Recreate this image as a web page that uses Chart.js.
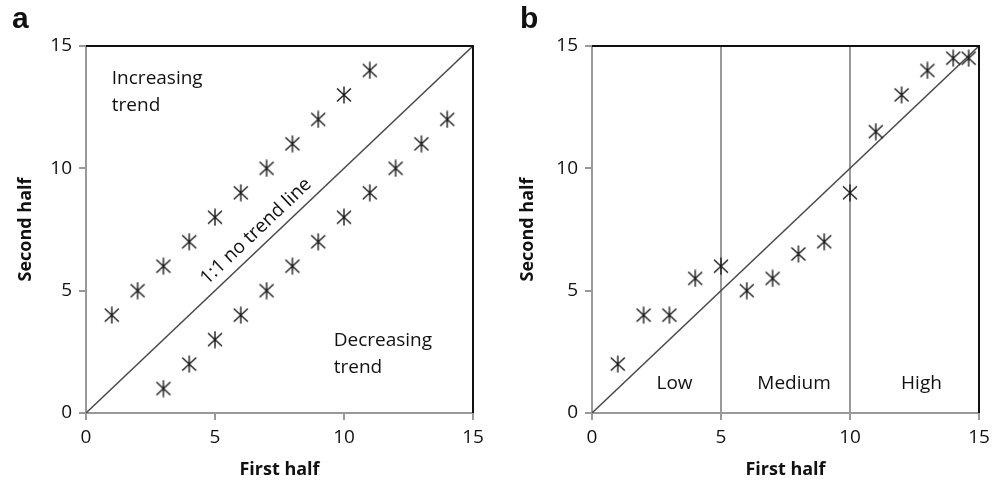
<!DOCTYPE html>
<html>
<head>
<meta charset="utf-8">
<script src="https://cdn.jsdelivr.net/npm/chart.js@4.4.1/dist/chart.umd.min.js"></script>
<style>
  body { margin: 0; background: #fff; width: 1005px; height: 484px; position: relative; overflow: hidden; }
  .panel { position: absolute; top: 0; height: 484px; }
  .letra { position: absolute; top: 1px; font: bold 30px "Liberation Sans", Arial, sans-serif; color: #111; }
</style>
</head>
<body>
<div class="panel" style="left:0;width:502px"><canvas id="graficaA" width="502" height="484"></canvas></div>
<div class="panel" style="left:502px;width:503px"><canvas id="graficaB" width="503" height="484"></canvas></div>
<div class="letra" style="left:12px">a</div>
<div class="letra" style="left:520px">b</div>
<script>
// Panel a: puntos por encima y por debajo de la linea 1:1
const subidaX = [1, 2, 3, 4, 5, 6, 7, 8, 9, 10, 11];
const subidaY = [4, 5, 6, 7, 8, 9, 10, 11, 12, 13, 14];
const bajadaX = [3, 4, 5, 6, 7, 8, 9, 10, 11, 12, 13, 14];
const bajadaY = [1, 2, 3, 4, 5, 6, 7, 8, 9, 10, 11, 12];

// Panel b
const puntosBX = [1, 2, 3, 4, 5, 6, 7, 8, 9, 10, 11, 12, 13, 14, 14.6];
const puntosBY = [2, 4, 4, 5.5, 6, 5, 5.5, 6.5, 7, 9, 11.5, 13, 14, 14.5, 14.5];

const ticksEje = [0, 5, 10, 15];
const cortes = [5, 10];
const tituloX = 'First half';
const tituloY = 'Second half';

const fuente = '"Open Sans", "Liberation Sans", sans-serif';

// asterisco de 6 brazos
function hacerAsterisco() {
  const c = document.createElement('canvas');
  c.width = 18; c.height = 18;
  const g = c.getContext('2d');
  g.strokeStyle = '#1a1a1a';
  g.lineWidth = 1.4;
  g.beginPath();
  g.moveTo(9, 0.5); g.lineTo(9, 17.5);
  g.moveTo(2, 2.5); g.lineTo(16, 15.5);
  g.moveTo(16, 2.5); g.lineTo(2, 15.5);
  g.stroke();
  return c;
}
const asterisco = hacerAsterisco();

function juntar(xs, ys) {
  return xs.map((x, i) => ({ x: x, y: ys[i] }));
}

const marco = {
  id: 'marco',
  afterDatasetsDraw(chart) {
    const { ctx, chartArea: a } = chart;
    ctx.save();
    ctx.strokeStyle = '#111';
    ctx.lineWidth = 2;
    ctx.beginPath();
    ctx.moveTo(a.left, a.top);
    ctx.lineTo(a.right, a.top);
    ctx.lineTo(a.right, a.bottom);
    ctx.stroke();
    ctx.restore();
  }
};

const notas = {
  id: 'notas',
  afterDatasetsDraw(chart, args, opts) {
    const { ctx, scales } = chart;
    ctx.save();
    ctx.fillStyle = '#111';
    ctx.font = '19px ' + fuente;
    ctx.textBaseline = 'middle';
    for (const n of opts.lista || []) {
      const px = scales.x.getPixelForValue(n.x);
      const py = scales.y.getPixelForValue(n.y);
      ctx.save();
      ctx.translate(px, py);
      if (n.girar) {
        const ang = Math.atan2(scales.y.getPixelForValue(15) - scales.y.getPixelForValue(0),
                               scales.x.getPixelForValue(15) - scales.x.getPixelForValue(0));
        ctx.rotate(ang);
      }
      ctx.textAlign = n.alinear || 'left';
      n.texto.forEach((t, i) => ctx.fillText(t, 0, i * 27));
      ctx.restore();
    }
    ctx.restore();
  }
};

function escalas(anchoY, conCortes) {
  return {
    x: {
      type: 'linear', min: 0, max: 15,
      afterBuildTicks: s => { s.ticks = ticksEje.map(v => ({ value: v })); },
      afterFit: s => { s.height = 71; },
      ticks: { color: '#111', font: { family: fuente, size: 19 }, padding: 6 },
      grid: {
        drawOnChartArea: conCortes,
        color: ctx => cortes.includes(ctx.tick.value) ? '#999' : 'rgba(0,0,0,0)',
        lineWidth: 2,
        tickLength: 7,
        tickColor: '#999'
      },
      border: { color: '#999', width: 2 },
      title: { display: true, text: tituloX, color: '#111', font: { family: fuente, size: 18, weight: 'bold' }, padding: { top: 0, bottom: 3 } }
    },
    y: {
      type: 'linear', min: 0, max: 15,
      afterBuildTicks: s => { s.ticks = ticksEje.map(v => ({ value: v })); },
      afterFit: s => { s.width = anchoY; },
      ticks: { color: '#111', font: { family: fuente, size: 19 }, padding: 7 },
      grid: { drawOnChartArea: false, lineWidth: 2, tickLength: 7, tickColor: '#999' },
      border: { color: '#999', width: 2 },
      title: { display: true, text: tituloY, color: '#111', font: { family: fuente, size: 18, weight: 'bold' }, padding: { top: 15, bottom: 0 } }
    }
  };
}

const lineaUno = {
  type: 'line',
  data: [{ x: 0, y: 0 }, { x: 15, y: 15 }],
  borderColor: '#4a4a4a',
  borderWidth: 1.5,
  pointRadius: 0,
  order: 2
};

function estiloPuntos(datos) {
  return {
    type: 'scatter',
    data: datos,
    pointStyle: asterisco,
    pointRadius: 9,
    order: 1
  };
}

new Chart(document.getElementById('graficaA'), {
  type: 'scatter',
  data: {
    datasets: [
      lineaUno,
      estiloPuntos(juntar(subidaX, subidaY)),
      estiloPuntos(juntar(bajadaX, bajadaY))
    ]
  },
  options: {
    responsive: false,
    animation: false,
    layout: { padding: { top: 46, right: 29, left: 0, bottom: 0 } },
    scales: escalas(86, false),
    plugins: {
      legend: { display: false },
      tooltip: { enabled: false },
      notas: {
        lista: [
          { texto: ['Increasing', 'trend'], x: 1.0, y: 13.65 },
          { texto: ['Decreasing', 'trend'], x: 9.6, y: 2.97 },
          { texto: ['1:1 no trend line'], x: 6.59, y: 7.42, girar: true, alinear: 'center' }
        ]
      }
    }
  },
  plugins: [marco, notas]
});

new Chart(document.getElementById('graficaB'), {
  type: 'scatter',
  data: {
    datasets: [
      { ...lineaUno },
      estiloPuntos(juntar(puntosBX, puntosBY))
    ]
  },
  options: {
    responsive: false,
    animation: false,
    layout: { padding: { top: 46, right: 26, left: 0, bottom: 0 } },
    scales: escalas(90, true),
    plugins: {
      legend: { display: false },
      tooltip: { enabled: false },
      notas: {
        lista: [
          { texto: ['Low'], x: 3.2, y: 1.22, alinear: 'center' },
          { texto: ['Medium'], x: 7.83, y: 1.22, alinear: 'center' },
          { texto: ['High'], x: 12.77, y: 1.22, alinear: 'center' }
        ]
      }
    }
  },
  plugins: [marco, notas]
});
</script>
</body>
</html>
